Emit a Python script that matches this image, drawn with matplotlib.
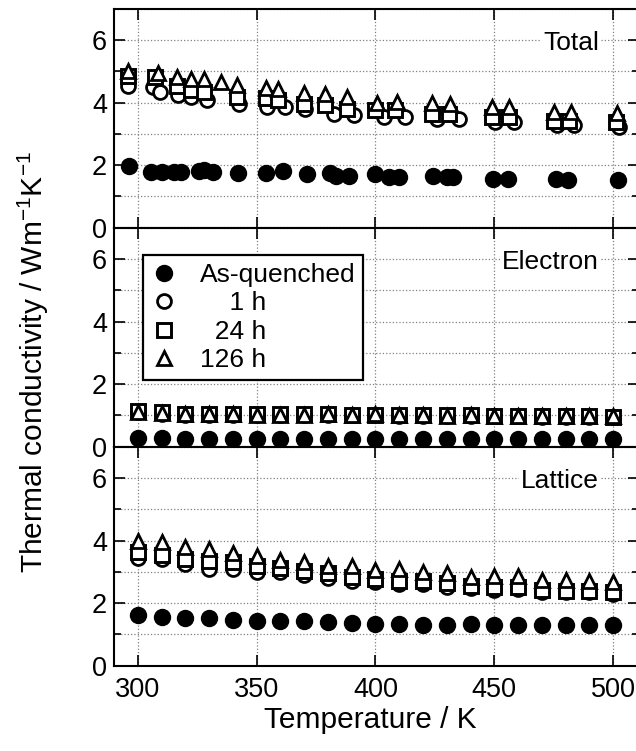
import matplotlib
matplotlib.use("Agg")
import matplotlib.pyplot as plt
from matplotlib.ticker import MultipleLocator

plt.rcParams['font.family'] = ['Liberation Sans', 'DejaVu Sans']
plt.rcParams['mathtext.fontset'] = 'custom'
plt.rcParams['mathtext.rm'] = 'Liberation Sans'
plt.rcParams['mathtext.it'] = 'Liberation Sans:italic'
plt.rcParams['font.size'] = 19

# ---- data ----
labels = ["As-quenched", "    1 h", "  24 h", "126 h"]

# Total: measured temperatures differ a little per sample
T_tot_aq = [296.4, 305.7, 310.0, 315.1, 318.4, 325.8, 328.0, 331.6, 342.3, 353.8,
            361.0, 371.1, 380.7, 383.3, 388.7, 399.8, 405.5, 409.8, 424.2, 429.9,
            432.8, 449.3, 455.8, 475.9, 481.2, 502.1]
k_tot_aq = [1.98, 1.79, 1.77, 1.77, 1.77, 1.82, 1.85, 1.79, 1.74, 1.74,
            1.81, 1.71, 1.76, 1.66, 1.66, 1.72, 1.63, 1.63, 1.66, 1.61,
            1.61, 1.56, 1.56, 1.56, 1.52, 1.52]

T_tot_1h = [296.0, 306.6, 309.5, 316.8, 322.5, 329.0, 342.5, 354.5, 362.0, 370.5,
            382.4, 390.8, 403.4, 412.6, 425.9, 435.0, 450.5, 458.2, 476.5, 483.5, 502.4]
k_tot_1h = [4.52, 4.50, 4.35, 4.24, 4.19, 4.08, 3.97, 3.87, 3.87, 3.81,
            3.65, 3.60, 3.55, 3.55, 3.46, 3.46, 3.39, 3.39, 3.28, 3.28, 3.21]

T_tot_24h = [296.0, 307.3, 316.4, 322.4, 327.9, 341.7, 353.9, 358.9, 370.0, 378.6,
             388.0, 399.9, 408.4, 423.8, 430.8, 449.1, 456.1, 475.0, 481.4, 501.2]
k_tot_24h = [4.84, 4.83, 4.53, 4.40, 4.34, 4.19, 4.13, 4.08, 3.97, 3.92,
             3.81, 3.76, 3.76, 3.65, 3.65, 3.55, 3.55, 3.42, 3.42, 3.39]

T_tot_126h = [296.0, 308.7, 316.4, 322.4, 327.9, 334.9, 341.7, 353.9, 358.9, 370.0,
              378.6, 388.0, 400.6, 409.0, 423.8, 431.5, 449.1, 456.1, 475.0, 482.1, 501.8]
k_tot_126h = [5.00, 4.95, 4.83, 4.74, 4.74, 4.67, 4.56, 4.48, 4.42, 4.31,
              4.26, 4.19, 3.98, 4.02, 3.99, 3.97, 3.85, 3.85, 3.71, 3.71, 3.67]

# Electron and lattice: 300 K to 500 K every 10 K
T_step = [300, 310, 320, 330, 340, 350, 360, 370, 380, 390, 400,
          410, 420, 430, 440, 450, 460, 470, 480, 490, 500]

k_el_aq = [0.27, 0.27, 0.26, 0.26, 0.26, 0.26, 0.26, 0.26, 0.26, 0.26, 0.26,
           0.26, 0.26, 0.26, 0.25, 0.25, 0.25, 0.25, 0.25, 0.25, 0.25]
k_el_1h = [1.10, 1.06, 1.02, 1.02, 1.02, 1.01, 1.01, 1.01, 1.01, 1.00, 1.00,
           0.99, 0.99, 0.98, 0.98, 0.97, 0.97, 0.96, 0.96, 0.95, 0.94]
k_el_24h = [1.13, 1.10, 1.04, 1.04, 1.04, 1.03, 1.03, 1.03, 1.04, 1.02, 1.02,
            1.01, 1.01, 1.00, 1.00, 0.99, 0.99, 0.98, 0.98, 0.97, 0.96]
k_el_126h = [1.10, 1.08, 1.03, 1.03, 1.03, 1.02, 1.02, 1.01, 1.04, 1.01, 1.03,
             1.00, 1.00, 0.99, 1.01, 0.98, 0.99, 0.99, 0.98, 0.98, 0.97]

k_lat_aq = [1.61, 1.55, 1.53, 1.53, 1.45, 1.42, 1.42, 1.42, 1.39, 1.37, 1.34,
            1.34, 1.31, 1.31, 1.34, 1.31, 1.29, 1.29, 1.29, 1.31, 1.29]
k_lat_1h = [3.45, 3.40, 3.25, 3.10, 3.08, 2.98, 2.98, 2.90, 2.80, 2.70, 2.68,
            2.62, 2.62, 2.52, 2.48, 2.42, 2.45, 2.35, 2.35, 2.35, 2.30]
k_lat_24h = [3.62, 3.55, 3.42, 3.35, 3.30, 3.18, 3.12, 3.02, 2.95, 2.85, 2.78,
             2.72, 2.70, 2.65, 2.55, 2.52, 2.50, 2.42, 2.40, 2.38, 2.35]
k_lat_126h = [3.97, 3.95, 3.78, 3.72, 3.60, 3.50, 3.37, 3.33, 3.20, 3.20, 3.05,
              3.08, 3.00, 2.96, 2.84, 2.88, 2.86, 2.74, 2.74, 2.70, 2.66]

panels = [
    ("Total", [(T_tot_aq, k_tot_aq), (T_tot_1h, k_tot_1h),
               (T_tot_24h, k_tot_24h), (T_tot_126h, k_tot_126h)]),
    ("Electron", [(T_step, k_el_aq), (T_step, k_el_1h),
                  (T_step, k_el_24h), (T_step, k_el_126h)]),
    ("Lattice", [(T_step, k_lat_aq), (T_step, k_lat_1h),
                 (T_step, k_lat_24h), (T_step, k_lat_126h)]),
]

styles = [
    dict(marker='o', ms=11.5, mfc='black', mec='black', mew=1.0),
    dict(marker='o', ms=10, mfc='white', mec='black', mew=2.0),
    dict(marker='s', ms=9.5, mfc='white', mec='black', mew=2.1),
    dict(marker='^', ms=10.5, mfc='white', mec='black', mew=2.0),
]

fig = plt.figure(figsize=(6.36, 7.51), dpi=100)

left, width = 0.1792, 0.826
bottom0, h = 0.1136, 0.2916
axes = []
for i in range(3):
    ax = fig.add_axes([left, bottom0 + (2 - i) * h, width, h])
    axes.append(ax)

for ax, (name, series) in zip(axes, panels):
    for (T, k), st in zip(series, styles):
        ax.plot(T, k, linestyle='none', **st)
    ax.set_xlim(290, 511)
    ax.set_ylim(0, 7)
    ax.xaxis.set_major_locator(MultipleLocator(50))
    ax.yaxis.set_major_locator(MultipleLocator(2))
    ax.yaxis.set_minor_locator(MultipleLocator(1))
    ax.grid(True, which='major', axis='x', color='0.5', linestyle=':', linewidth=0.9)
    ax.grid(True, which='both', axis='y', color='0.5', linestyle=':', linewidth=0.9)
    ax.set_axisbelow(True)
    ax.tick_params(which='both', direction='in', top=True, right=True, width=1.2)
    ax.tick_params(which='major', length=8, labelsize=19.5, pad=5)
    ax.tick_params(which='minor', length=5)
    for sp in ax.spines.values():
        sp.set_linewidth(1.5)
    ax.text(494, 5.9, name, ha='right', va='center', fontsize=19,
            bbox=dict(facecolor='white', edgecolor='none', pad=1.5))

for ax in axes[:2]:
    ax.tick_params(labelbottom=False)

axes[2].tick_params(axis='x', pad=8)

handles = axes[1].get_lines()
leg = axes[1].legend(handles, labels, loc='upper left', bbox_to_anchor=(0.055, 0.875),
                     borderaxespad=0, fontsize=19, frameon=True, fancybox=False,
                     handlelength=1.0, handletextpad=0.85, labelspacing=0.17,
                     borderpad=0.3, numpoints=1)
leg.get_frame().set_edgecolor('black')
leg.get_frame().set_linewidth(1.6)
leg.get_frame().set_alpha(1)

fig.text(0.052, 1 - 362 / 751, "Thermal conductivity / Wm$^{-1}$K$^{-1}$",
         rotation=90, ha='center', va='center', fontsize=21.5)
fig.text(0.583, 1 - 720 / 751, "Temperature / K", ha='center', va='center', fontsize=21.5)

fig.savefig("out.png", dpi=100)
